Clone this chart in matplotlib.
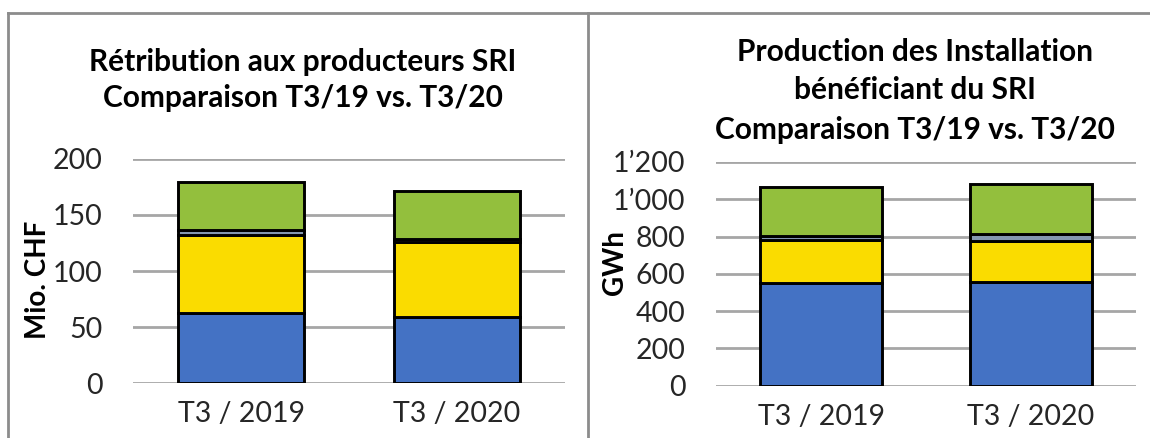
import numpy as np
import matplotlib
matplotlib.use("Agg")
from matplotlib import pyplot as plt
from matplotlib.lines import Line2D
from matplotlib.ticker import FuncFormatter

# data
categories = ["T3 / 2019", "T3 / 2020"]

# Rétribution (Mio. CHF)
chf_blue = [62.5, 59.0]
chf_yellow = [69.5, 66.5]
chf_other = [4.5, 3.0]
chf_green = [43.0, 42.5]

# Production (GWh)
gwh_blue = [549, 554]
gwh_yellow = [232, 222]
gwh_other = [22, 37]
gwh_green = [264, 268]

colors = ["#4472C4", "#FADC00", "#8497B0", "#93BF3D"]
font = "Lato"

W, H = 1150, 438
fig = plt.figure(figsize=(W / 100, H / 100), dpi=100)


def px_axes(x0, y_top, x1, y_bot):
    return fig.add_axes([x0 / W, 1 - y_bot / H, (x1 - x0) / W, (y_bot - y_top) / H])


def stacked(ax, series, ymax, step, ylabel, lab_xy, fmt=None):
    x = np.arange(len(categories))
    bottom = np.zeros(len(categories))
    for vals, c in zip(series, colors):
        ax.bar(x, vals, bottom=bottom, width=0.58, color=c,
               edgecolor="black", linewidth=2.1, zorder=3)
        bottom += np.array(vals)
    ax.set_xlim(-0.5, 1.5)
    ax.set_ylim(0, ymax)
    ax.set_yticks(np.arange(0, ymax + 1, step))
    if fmt is not None:
        ax.yaxis.set_major_formatter(FuncFormatter(fmt))
    ax.set_xticks(x)
    ax.set_xticklabels(categories)
    ax.grid(axis="y", color="#A6A6A6", linewidth=2, zorder=0)
    ax.set_axisbelow(True)
    for s in ax.spines.values():
        s.set_visible(False)
    ax.tick_params(length=0, labelsize=20.5, labelcolor="#262626")
    ax.tick_params(axis="y", pad=22)
    ax.tick_params(axis="x", pad=13)
    for lab in ax.get_xticklabels() + ax.get_yticklabels():
        lab.set_family(font)
    ax.set_ylabel(ylabel, fontsize=20, fontweight="bold", family=font)
    ax.yaxis.set_label_coords(*lab_xy)


# left chart
ax1 = px_axes(133, 159, 565, 383)
stacked(ax1, [chf_blue, chf_yellow, chf_other, chf_green], 200, 50, "Mio. CHF",
        (-0.19, 0.46))

# right chart
ax2 = px_axes(716, 162, 1136, 385.7)
stacked(ax2, [gwh_blue, gwh_yellow, gwh_other, gwh_green], 1200, 200, "GWh",
        (-0.21, 0.55), fmt=lambda v, p: f"{int(v):,}".replace(",", "\u2019"))

# titles
tkw = dict(ha="center", va="center", fontsize=21.5, fontweight="bold", family=font)
fig.text(303 / W, 1 - 62 / H, "Rétribution aux producteurs SRI", **tkw)
fig.text(303 / W, 1 - 98 / H, "Comparaison T3/19 vs. T3/20", **tkw)
fig.text(915 / W, 1 - 52 / H, "Production des Installation", **tkw)
fig.text(915 / W, 1 - 90 / H, "bénéficiant du SRI", **tkw)
fig.text(915 / W, 1 - 130 / H, "Comparaison T3/19 vs. T3/20", **tkw)

# frame lines
gray = "#8C8C8C"
fig.add_artist(Line2D([8 / W, 1], [1 - 13 / H] * 2, color=gray, linewidth=2))
fig.add_artist(Line2D([8 / W] * 2, [0, 1 - 13 / H], color=gray, linewidth=2))
fig.add_artist(Line2D([588 / W] * 2, [0, 1 - 13 / H], color=gray, linewidth=2))

fig.savefig("out.png", dpi=100)
